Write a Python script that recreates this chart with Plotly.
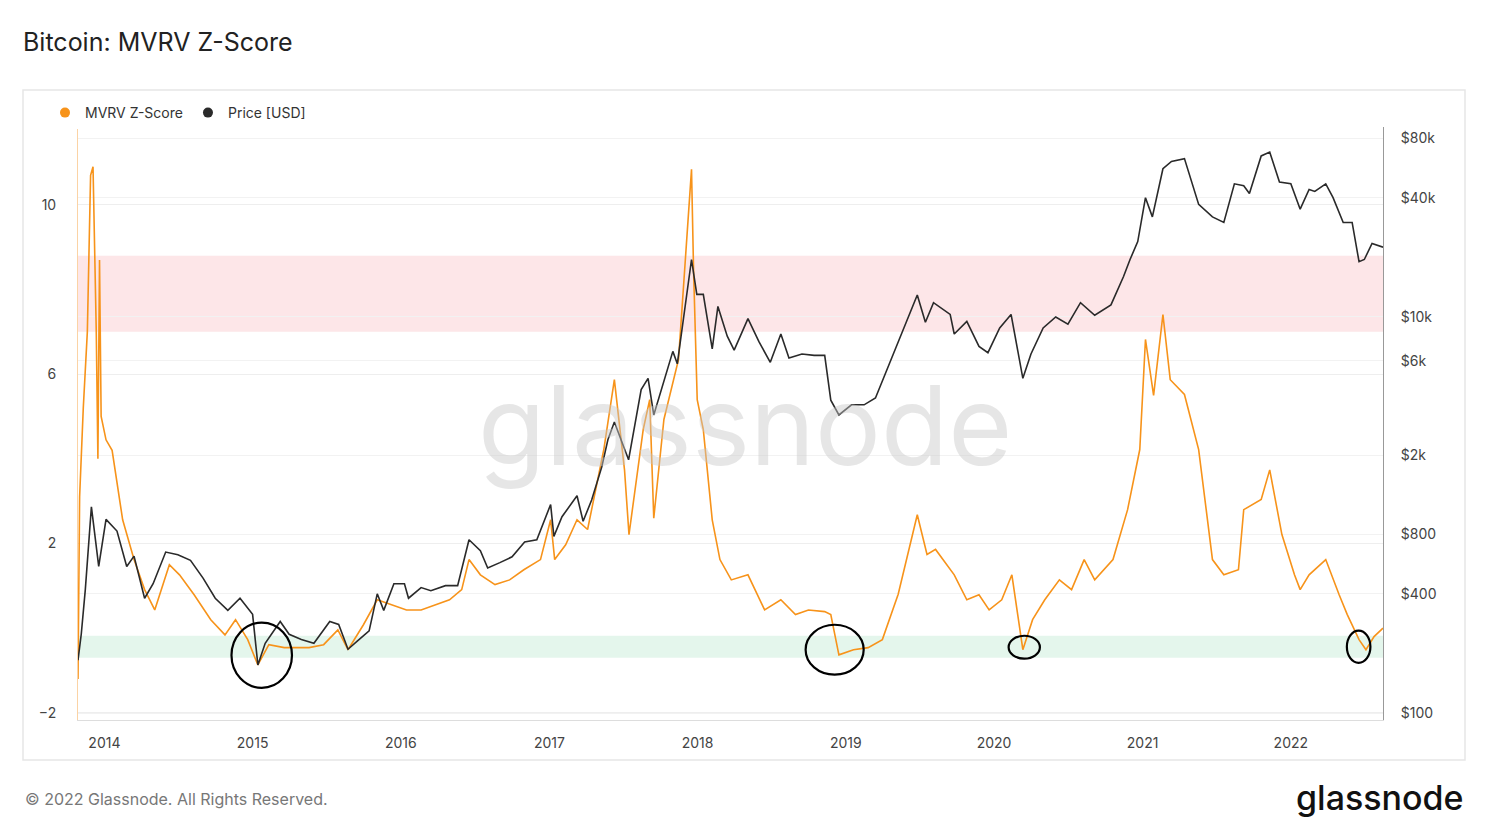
import plotly.graph_objects as go

z_dates = ["2013-10-28","2013-11-01","2013-11-10","2013-11-20","2013-11-28","2013-12-04","2013-12-12","2013-12-16","2013-12-20","2013-12-24","2014-01-05","2014-01-20",
"2014-02-15","2014-03-15","2014-04-10","2014-05-05","2014-06-10","2014-07-05","2014-08-10","2014-09-20","2014-10-25","2014-11-20","2014-12-20","2015-01-14","2015-02-10",
"2015-03-20","2015-04-15","2015-05-20","2015-06-25","2015-07-30","2015-08-24","2015-10-01","2015-11-04","2015-12-10","2016-01-15","2016-02-20","2016-03-25","2016-04-30",
"2016-05-30","2016-06-17","2016-07-15","2016-08-20","2016-09-25","2016-10-30","2016-12-10","2017-01-04","2017-01-14","2017-02-10","2017-03-10","2017-04-05","2017-05-15",
"2017-06-10","2017-07-05","2017-07-16","2017-08-20","2017-09-05","2017-09-15","2017-10-10","2017-11-15","2017-12-17","2017-12-22","2017-12-31","2018-01-15","2018-02-06",
"2018-02-25","2018-03-25","2018-05-05","2018-06-15","2018-07-25","2018-08-30","2018-10-01","2018-11-10","2018-11-25","2018-12-15","2019-01-20","2019-02-25","2019-04-01",
"2019-05-10","2019-06-26","2019-07-20","2019-08-10","2019-09-25","2019-10-26","2019-11-25","2019-12-20","2020-01-20","2020-02-14","2020-03-12","2020-04-05","2020-05-05",
"2020-06-10","2020-07-10","2020-08-10","2020-09-05","2020-10-20","2020-11-25","2020-12-25","2021-01-08","2021-01-28","2021-02-20","2021-03-10","2021-04-14","2021-05-19",
"2021-06-22","2021-07-20","2021-08-25","2021-09-07","2021-10-20","2021-11-10","2021-12-10","2022-01-10","2022-01-24","2022-02-15","2022-03-28","2022-04-30","2022-05-20",
"2022-06-18","2022-07-05","2022-07-25","2022-08-16"]
z_vals = [-1.2,3.1,5.2,7.0,10.7,10.9,7.0,4.0,8.7,5.0,4.45,4.2,
2.56,1.62,0.91,0.43,1.5,1.26,0.79,0.2,-0.16,0.2,-0.27,-0.87,-0.39,
-0.46,-0.46,-0.46,-0.39,-0.04,-0.51,0.08,0.67,0.55,0.43,0.43,0.55,0.67,
0.91,1.62,1.26,1.03,1.14,1.38,1.62,2.56,1.62,1.97,2.56,2.33,4.22,
5.87,3.74,2.21,4.69,5.4,2.6,4.93,6.35,10.84,8.47,5.4,4.69,2.56,
1.62,1.14,1.26,0.43,0.67,0.32,0.43,0.39,0.32,-0.63,-0.51,-0.46,-0.27,
0.8,2.68,1.74,1.86,1.26,0.67,0.79,0.43,0.67,1.26,-0.51,0.2,0.67,
1.14,0.91,1.62,1.14,1.62,2.8,4.22,6.82,5.5,7.41,5.87,5.52,4.22,
1.62,1.26,1.38,2.8,3.04,3.74,2.21,1.26,0.91,1.26,1.62,0.79,0.32,
-0.27,-0.51,-0.2,0.0]

p_dates = ["2013-10-28","2013-11-05","2013-11-15","2013-11-30","2013-12-18","2014-01-05","2014-02-01","2014-02-25","2014-03-15","2014-04-10","2014-05-01","2014-06-01",
"2014-07-01","2014-08-01","2014-09-01","2014-10-01","2014-11-01","2014-12-01","2015-01-01","2015-01-14","2015-02-01","2015-03-10","2015-04-01","2015-05-01","2015-06-01",
"2015-07-10","2015-08-01","2015-08-24","2015-09-15","2015-10-15","2015-11-04","2015-11-20","2015-12-15","2016-01-10","2016-01-20","2016-02-20","2016-03-15","2016-04-20",
"2016-05-20","2016-06-17","2016-07-15","2016-08-02","2016-09-01","2016-10-01","2016-11-01","2016-12-01","2017-01-04","2017-01-12","2017-02-01","2017-03-10","2017-03-25",
"2017-04-15","2017-05-10","2017-05-25","2017-06-10","2017-07-15","2017-08-15","2017-09-01","2017-09-15","2017-10-10","2017-11-01","2017-11-12","2017-11-28","2017-12-17",
"2017-12-30","2018-01-15","2018-02-06","2018-02-20","2018-03-15","2018-04-01","2018-05-05","2018-06-01","2018-06-29","2018-07-25","2018-08-14","2018-09-15","2018-10-15",
"2018-11-10","2018-11-25","2018-12-15","2019-01-15","2019-02-15","2019-03-15","2019-04-05","2019-05-15","2019-06-26","2019-07-16","2019-08-05","2019-09-15","2019-09-25",
"2019-10-26","2019-11-25","2019-12-17","2020-01-15","2020-02-12","2020-03-12","2020-04-01","2020-05-01","2020-06-01","2020-07-01","2020-08-01","2020-09-05","2020-10-15",
"2020-11-15","2020-12-01","2020-12-20","2021-01-08","2021-01-25","2021-02-20","2021-03-13","2021-04-14","2021-05-19","2021-06-22","2021-07-20","2021-08-15","2021-09-07",
"2021-09-21","2021-10-20","2021-11-10","2021-12-04","2022-01-01","2022-01-24","2022-02-15","2022-03-01","2022-03-28","2022-04-15","2022-05-10","2022-06-01","2022-06-18",
"2022-07-01","2022-07-20","2022-08-16"]
p_vals = [185,250,420,1100,550,950,830,550,620,380,450,650,
630,590,480,380,330,380,315,175,225,290,250,235,225,
290,280,210,230,260,400,330,450,450,380,430,415,440,
440,750,660,540,575,615,730,750,1130,780,980,1250,930,
1190,1750,2400,2950,1900,4300,4900,3200,4800,6700,5800,10000,19500,
13000,13000,6900,11300,8000,6800,9800,7500,5900,8200,6200,6500,6400,
6400,3800,3200,3600,3600,3900,5000,8000,12900,9400,11800,10300,8200,
9500,7100,6600,8800,10300,4900,6500,8800,10000,9200,11800,10200,11500,
16000,19500,24000,40000,32000,56000,61000,63000,37000,32000,30000,47000,46000,
42000,65000,68000,48000,47000,35000,44000,43000,47000,40000,30000,30000,19000,
19500,23500,22500]

price_ticks = [100,400,800,2000,6000,10000,40000,80000]
price_labels = ["$100","$400","$800","$2k","$6k","$10k","$40k","$80k"]

ORANGE = "#f7931a"
DARK = "#2a2a2a"

W, H = 1476, 817
L, T, R, B = 70, 119, 101, 105
PW, PH = W - L - R, H - T - B

def px(xp):
    return (xp - 8 - L) / PW
def py(yp):
    return 1 - (yp - 8 - T) / PH

fig = go.Figure()
fig.add_trace(go.Scatter(x=p_dates, y=p_vals, name="Price [USD]", yaxis="y2", showlegend=False,
                         line=dict(color=DARK, width=1.6), mode="lines"))
fig.add_trace(go.Scatter(x=z_dates, y=z_vals, name="MVRV Z-Score", showlegend=False,
                         line=dict(color=ORANGE, width=1.6), mode="lines"))
fig.add_trace(go.Scatter(x=[None], y=[None], name="MVRV Z-Score", mode="markers",
                         marker=dict(color=ORANGE, size=10)))
fig.add_trace(go.Scatter(x=[None], y=[None], name="Price [USD]", mode="markers",
                         marker=dict(color=DARK, size=10)))

shapes = [
    dict(type="rect", xref="paper", yref="y", x0=0, x1=1, y0=7.0, y1=8.8,
         fillcolor="rgba(245,140,150,0.22)", line_width=0, layer="below"),
    dict(type="rect", xref="paper", yref="y", x0=0, x1=1, y0=-0.7, y1=-0.18,
         fillcolor="rgba(120,210,160,0.2)", line_width=0, layer="below"),
    dict(type="rect", xref="paper", yref="paper", x0=px(23), x1=px(1465), y0=py(760), y1=py(90),
         line=dict(color="#e6e6e6", width=1.5), fillcolor="rgba(0,0,0,0)"),
]
for x0, x1, y0, y1 in [("2014-11-10","2015-04-08",0.13,-1.41),("2018-09-24","2019-02-14",0.08,-1.1),
                       ("2020-02-06","2020-04-23",-0.18,-0.72),("2022-05-19","2022-07-16",-0.06,-0.82)]:
    shapes.append(dict(type="circle", xref="x", yref="y", x0=x0, x1=x1, y0=y0, y1=y1,
                       line=dict(color="black", width=2.2)))

fig.update_layout(
    width=W, height=H,
    paper_bgcolor="white", plot_bgcolor="white",
    margin=dict(l=L, r=R, t=T, b=B),
    font=dict(family="Inter, Noto Sans, sans-serif", color="#444", size=14),
    title=dict(text="Bitcoin: MVRV Z-Score", x=15/W, xanchor="left", y=1-34/H, yanchor="middle",
               font=dict(size=25, color="#222")),
    legend=dict(orientation="h", x=px(45), y=py(113), xanchor="left", yanchor="middle",
                font=dict(size=14, color="#333"), itemwidth=30, tracegroupgap=0),
    xaxis=dict(range=["2013-10-28","2022-08-16"], showgrid=False, tickformat="%Y", dtick="M12",
               tick0="2014-01-01", ticks="", showline=True, linecolor="#ddd", zeroline=False,
               ticklabelstandoff=10, tickfont=dict(size=14, color="#444")),
    yaxis=dict(range=[-2.17, 11.84], tickvals=[-2,2,6,10], showgrid=True, gridcolor="#eeeeee",
               zeroline=False, showline=True, linecolor="#fbd3a5", ticks="", ticklabelstandoff=18,
               tickfont=dict(size=14, color="#444")),
    yaxis2=dict(type="log", overlaying="y", side="right", range=[1.965, 4.959],
                tickvals=price_ticks, ticktext=price_labels, showgrid=True, gridcolor="#f2f2f2",
                showline=True, linecolor="#999", ticks="", ticklabelstandoff=14, zeroline=False,
                tickfont=dict(size=14, color="#444")),
    shapes=shapes,
    annotations=[
        dict(text="glassnode", xref="paper", yref="paper", x=px(745), y=py(425), showarrow=False,
             xanchor="center", yanchor="middle",
             font=dict(size=110, color="rgba(200,200,200,0.45)", family="Inter, sans-serif")),
        dict(text="© 2022 Glassnode. All Rights Reserved.", xref="paper", yref="paper",
             x=px(23), y=py(799), xanchor="left", yanchor="middle", showarrow=False,
             font=dict(size=16, color="#777")),
        dict(text="glassnode", xref="paper", yref="paper", x=px(1466), y=py(797),
             xanchor="right", yanchor="middle", showarrow=False,
             font=dict(size=34, color="#111", family="Inter, sans-serif", weight=500)),
    ],
)
fig.write_html("out.html")
